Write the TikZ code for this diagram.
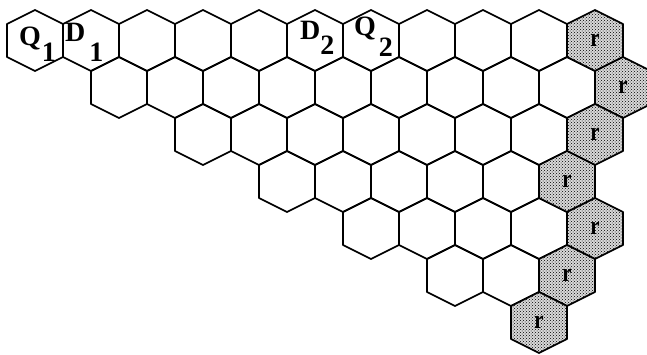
\documentclass[tikz,border=0pt]{standalone}
\usepackage{fontspec}
\setmainfont{Liberation Serif}
\usetikzlibrary{patterns}

% Vienas šešiakampis langelis
\newcommand{\hexagon}{(0,-30.5) -- (28,-16.5) -- (28,16.5) -- (0,30.5) -- (-28,16.5) -- (-28,-16.5) -- cycle}

\begin{document}
\begin{tikzpicture}[
  x=1pt, y=-1pt,
  % Langelių stiliai
  cell/.style={draw, line width=1.7pt, line join=round},
  rcell/.style={cell, fill=gray!30, postaction={pattern=crosshatch dots}},
  % Užrašų stiliai
  lab/.style={font=\fontsize{28}{28}\selectfont\bfseries, inner sep=0pt, anchor=base west},
  rlab/.style={font=\fontsize{26}{26}\selectfont\bfseries, inner sep=0pt}
]
  \useasboundingbox (0,0) rectangle (647,355);

  % Balti langeliai: eilutė / pirmasis / kiek
  \foreach \r/\a/\n in {0/0/9, 1/3/8, 2/6/6, 3/9/4, 4/12/3, 5/15/1}
    \foreach \k in {0,...,\n}
      \draw[cell, shift={({35+28*(\a+2*\k)},{40.5+47*\r})}] \hexagon;

  % Taškuoti langeliai su r
  \foreach \r/\h in {0/20, 1/21, 2/20, 3/19, 4/20, 5/19, 6/18} {
    \draw[rcell, shift={({35+28*\h},{40.5+47*\r})}] \hexagon;
    \node[rlab] (r\r) at ({35+28*\h},{40.5+47*\r}) {\scalebox{0.8}[1]{r}};
  }

  % Užrašai
  \node[lab] (q1) at (19,46) {Q\hspace{1pt}\raisebox{-16pt}{1}};
  \node[lab] (d1) at (65,42) {D\hspace{4pt}\raisebox{-20pt}{1}};
  \node[lab] (d2) at (300,40) {D\hspace{0pt}\raisebox{-15pt}{2}};
  \node[lab] (q2) at (354,36) {Q\hspace{3pt}\raisebox{-21pt}{2}};

\end{tikzpicture}
\end{document}
